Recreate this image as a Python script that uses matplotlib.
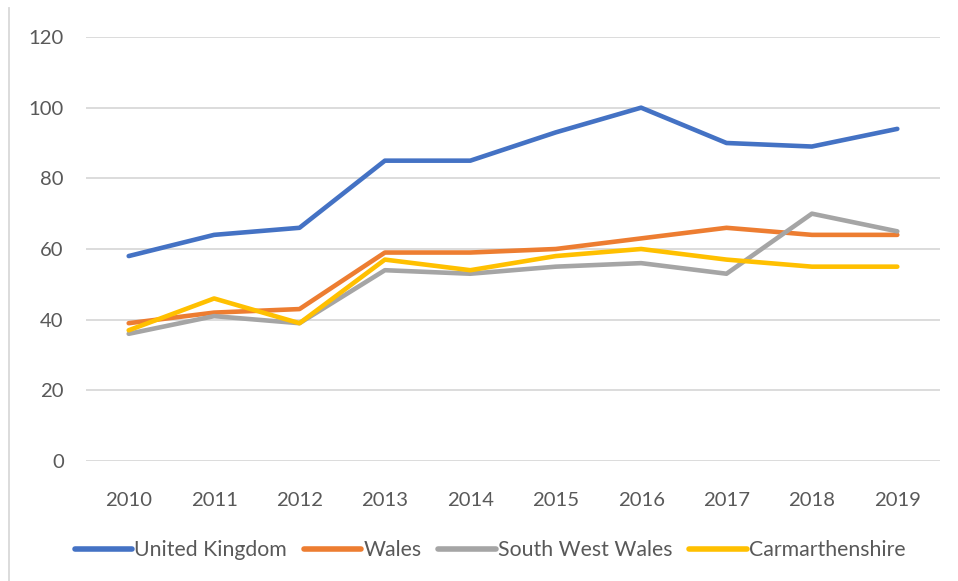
import matplotlib
matplotlib.use("Agg")
import matplotlib.pyplot as plt
from matplotlib.lines import Line2D

years = [2010, 2011, 2012, 2013, 2014, 2015, 2016, 2017, 2018, 2019]
uk = [58, 64, 66, 85, 85, 93, 100, 90, 89, 94]
wales = [39, 42, 43, 59, 59, 60, 63, 66, 64, 64]
sw_wales = [36, 41, 39, 54, 53, 55, 56, 53, 70, 65]
carm = [37, 46, 39, 57, 54, 58, 60, 57, 55, 55]
series_names = ["United Kingdom", "Wales", "South West Wales", "Carmarthenshire"]
colors = ["#4472C4", "#ED7D31", "#A5A5A5", "#FFC000"]
yticks = [0, 20, 40, 60, 80, 100, 120]

plt.rcParams['font.family'] = ['Lato', 'DejaVu Sans']
W, H = 958, 581
fig = plt.figure(figsize=(W/100, H/100), dpi=100)
ax = fig.add_axes([86/W, 1-461/H, (940-86)/W, (461-37)/H])

x = list(range(len(years)))
for vals, c, n in zip([uk, wales, sw_wales, carm], colors, series_names):
    ax.plot(x, vals, color=c, lw=3.3, solid_capstyle='round', solid_joinstyle='round', label=n)

ax.set_xlim(-0.5, len(years)-0.5)
ax.set_ylim(0, 120)
ax.set_yticks(yticks)
ax.set_xticks(x)
ax.set_xticklabels([str(y) for y in years])
ax.grid(axis='y', color='#D9D9D9', lw=1.3)
ax.set_axisbelow(True)
for s in ax.spines.values():
    s.set_visible(False)
ax.tick_params(length=0, labelsize=14.6, colors='#595959')
ax.tick_params(axis='x', pad=22)
ax.tick_params(axis='y', pad=16)

handles = [Line2D([0], [0], color=c, lw=4, solid_capstyle='round') for c in colors]
fig.legend(handles, series_names, loc='center', bbox_to_anchor=(490/W, 1-550/H), ncol=4,
           frameon=False, fontsize=15.3, labelcolor='#595959', handlelength=2.7,
           handletextpad=0.1, columnspacing=0.8)

fig.add_artist(Line2D([9/W, 9/W], [0, 1-8/H], color='#D9D9D9', lw=1.3))

fig.savefig("out.png", dpi=100)
